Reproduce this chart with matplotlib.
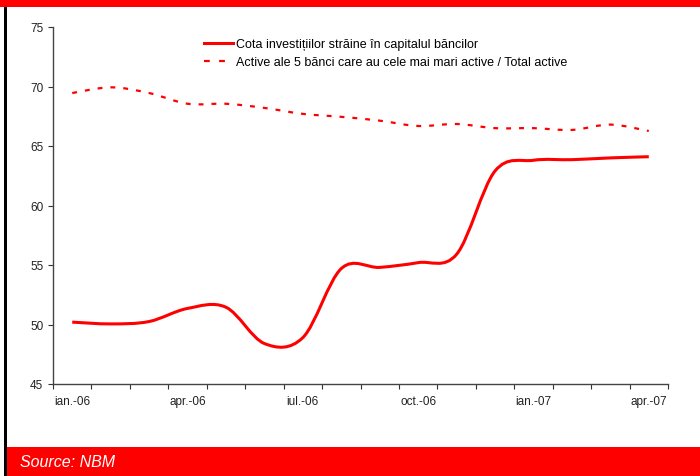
import numpy as np
import matplotlib
matplotlib.use("Agg")
import matplotlib.pyplot as plt
from matplotlib.path import Path
from matplotlib.patches import PathPatch, Rectangle
from matplotlib.lines import Line2D

plt.rcParams['font.family'] = ['Liberation Sans', 'DejaVu Sans']

# monthly values, ian.-06 .. apr.-07
months = ["ian.-06", "feb.-06", "mar.-06", "apr.-06", "mai-06", "iun.-06",
          "iul.-06", "aug.-06", "sep.-06", "oct.-06", "nov.-06", "dec.-06",
          "ian.-07", "feb.-07", "mar.-07", "apr.-07"]
foreign_share = [50.2, 50.05, 50.25, 51.35, 51.45, 48.4, 48.9, 54.7,
                 54.8, 55.2, 55.9, 62.9, 63.8, 63.85, 64.0, 64.1]
top5_share = [69.45, 69.93, 69.45, 68.55, 68.55, 68.2, 67.7, 67.45,
              67.13, 66.68, 66.85, 66.5, 66.5, 66.35, 66.8, 66.26]
label_solid = "Cota investițiilor străine în capitalul băncilor"
label_dashed = "Active ale 5 bănci care au cele mai mari active / Total active"

RED = "#ff0000"
DASH = (0, (2.2, 3.6))


def smooth_path(y):
    # Excel-like smoothed line: cubic Bezier segments through each point
    x = np.arange(len(y), dtype=float)
    pts = np.column_stack([x, np.asarray(y, dtype=float)])
    verts = [pts[0]]
    codes = [Path.MOVETO]
    n = len(pts)
    for i in range(n - 1):
        p0 = pts[i - 1] if i > 0 else pts[i]
        p1 = pts[i]
        p2 = pts[i + 1]
        p3 = pts[i + 2] if i + 2 < n else pts[i + 1]
        c1 = p1 + (p2 - p0) / 6.0
        c2 = p2 - (p3 - p1) / 6.0
        verts += [c1, c2, p2]
        codes += [Path.CURVE4] * 3
    return Path(verts, codes)


fig = plt.figure(figsize=(7, 4.77), dpi=100)
ax = fig.add_axes([53 / 700, 1 - 385 / 477, 615 / 700, 357 / 477])

ax.add_patch(PathPatch(smooth_path(foreign_share), facecolor="none",
                       edgecolor=RED, lw=2.2, capstyle="butt"))
ax.add_patch(PathPatch(smooth_path(top5_share), facecolor="none",
                       edgecolor=RED, lw=1.6, linestyle=DASH))

ax.set_xlim(-0.5, len(months) - 0.5)
ax.set_ylim(45, 75)
ax.set_yticks(np.arange(45, 76, 5))
ax.set_xticks(np.arange(-0.5, len(months), 1.0))
ax.set_xticklabels([])
ax.set_xticks(np.arange(0, len(months), 3), minor=True)
ax.set_xticklabels(months[::3], minor=True)
ax.tick_params(axis="x", which="minor", length=0, pad=8, labelsize=8.5, colors="#222222")
ax.tick_params(axis="x", which="major", length=3.5, direction="out", color="#333333")
ax.tick_params(axis="y", length=3.5, direction="out", labelsize=8.5, colors="#222222", color="#333333")
for side in ("top", "right"):
    ax.spines[side].set_visible(False)
for side in ("left", "bottom"):
    ax.spines[side].set_color("#444444")
    ax.spines[side].set_linewidth(1.0)

handles = [Line2D([], [], color=RED, lw=2.2),
           Line2D([], [], color=RED, lw=1.6, linestyle=(0, (2.6, 4.2)))]
ax.legend(handles, [label_solid, label_dashed], loc="upper left",
          bbox_to_anchor=(0.2455, 0.969), frameon=False, fontsize=9,
          handlelength=2.3, handletextpad=0.3, labelspacing=0.5,
          borderaxespad=0, borderpad=0)

# frame decorations
fig.add_artist(Rectangle((0, 1 - 8 / 477), 1, 8 / 477, transform=fig.transFigure,
                         facecolor=RED, edgecolor="none"))
fig.add_artist(Rectangle((4 / 700, 0), 3 / 700, 469 / 477, transform=fig.transFigure,
                         facecolor="black", edgecolor="none"))
fig.add_artist(Rectangle((7 / 700, 0), 693 / 700, 29 / 477, transform=fig.transFigure,
                         facecolor=RED, edgecolor="none"))
fig.text(20 / 700, 1 - 463 / 477, "Source: NBM", color="white", style="italic",
         fontsize=11.5, va="center", ha="left")

fig.savefig("out.png", dpi=100)
